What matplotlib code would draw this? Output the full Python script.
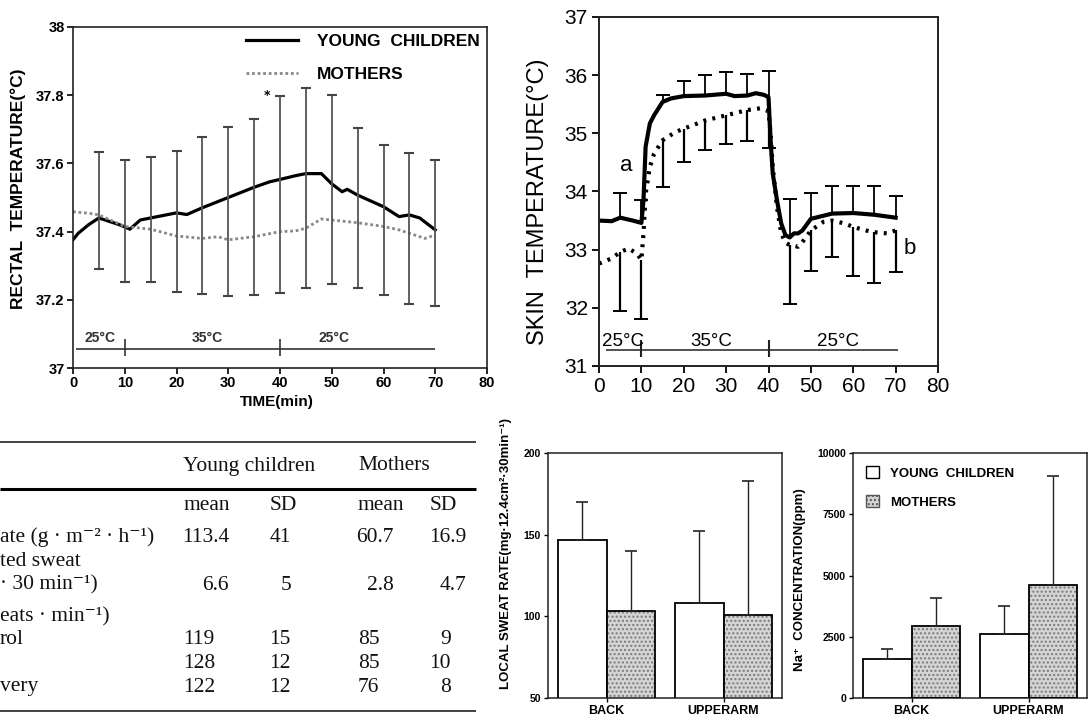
"""Rectal / skin temperature curves, subject table and local sweat bars (scanned figure re-draw)."""
import matplotlib
matplotlib.use("Agg")
import matplotlib.pyplot as plt
from matplotlib.patches import Rectangle
import numpy as np

W, H = 1088, 720
SANS = ["Liberation Sans", "DejaVu Sans"]
SERIF = ["Liberation Serif", "DejaVu Serif"]

# ---------- rectal temperature ----------
rt_child_t = [0, 1, 3, 5, 7, 9, 11, 13, 15, 20, 22, 25, 30, 35, 38, 40, 43, 45, 48,
              50, 52, 53, 55, 60, 63, 65, 67, 70]
rt_child = [37.376, 37.395, 37.42, 37.44, 37.43, 37.42, 37.407, 37.434, 37.44, 37.455,
            37.45, 37.47, 37.50, 37.53, 37.546, 37.553, 37.564, 37.57, 37.57, 37.54,
            37.517, 37.524, 37.507, 37.473, 37.444, 37.449, 37.44, 37.405]
rt_moth_t = [0, 3, 5, 10, 15, 20, 25, 28, 30, 35, 40, 43, 45, 48, 50, 55, 60, 63, 65, 68, 70]
rt_moth = [37.458, 37.454, 37.449, 37.415, 37.407, 37.387, 37.38, 37.385, 37.376, 37.385,
           37.40, 37.402, 37.41, 37.437, 37.434, 37.426, 37.415, 37.405, 37.395, 37.38, 37.39]
rt_bar_t = [5, 10, 15, 20, 25, 30, 35, 40, 45, 50, 55, 60, 65, 70]
rt_bar_hi = [37.632, 37.61, 37.62, 37.637, 37.676, 37.707, 37.73, 37.797, 37.822, 37.80,
             37.705, 37.653, 37.63, 37.609]
rt_bar_lo = [37.29, 37.251, 37.251, 37.222, 37.218, 37.212, 37.215, 37.221, 37.234, 37.246,
             37.234, 37.215, 37.188, 37.182]
rt_yticks = [37, 37.2, 37.4, 37.6, 37.8, 38]
rt_yticklabels = ["37", "37.2", "37.4", "37.6", "37.8", "38"]

# ---------- skin temperature ----------
sk_child_t = [0, 3, 5, 8, 10, 10.5, 11, 12, 13, 15, 17, 20, 25, 30, 32, 35, 37, 39, 40,
              40.5, 41, 42, 43, 44, 45, 46, 47, 48, 50, 55, 60, 65, 70]
sk_child = [33.50, 33.49, 33.55, 33.50, 33.46, 33.85, 34.77, 35.17, 35.31, 35.54, 35.60,
            35.64, 35.65, 35.68, 35.64, 35.65, 35.69, 35.66, 35.62, 34.88, 34.31, 33.85,
            33.45, 33.25, 33.21, 33.28, 33.28, 33.33, 33.53, 33.62, 33.63, 33.60, 33.55]
sk_moth_t = [0, 3, 5, 7, 9, 10, 10.5, 11, 12, 13, 15, 18, 20, 25, 30, 35, 38, 40, 40.5,
             41, 42, 43, 44, 45, 47, 48, 50, 53, 55, 58, 60, 63, 65, 68, 70]
sk_moth = [32.76, 32.85, 32.96, 33.02, 32.93, 32.82, 33.28, 33.96, 34.42, 34.65, 34.88,
           35.02, 35.08, 35.22, 35.31, 35.40, 35.43, 35.38, 34.99, 34.42, 33.73, 33.28,
           33.12, 33.08, 33.05, 33.13, 33.33, 33.48, 33.50, 33.45, 33.39, 33.33, 33.30,
           33.28, 33.33]
sk_bar_t = [5, 10, 15, 20, 25, 30, 35, 40, 45, 50, 55, 60, 65, 70]
sk_child_hi = [33.98, 33.85, 35.66, 35.90, 36.01, 36.05, 36.02, 36.08, 33.87, 33.98,
               34.10, 34.10, 34.09, 33.92]
sk_moth_lo = [31.95, 31.80, 34.08, 34.50, 34.71, 34.81, 34.87, 34.75, 32.07, 32.63,
              32.88, 32.54, 32.43, 32.62]

# ---------- table ----------
tbl_groups = ["Young children", "Mothers"]
tbl_sub = ["mean", "SD", "mean", "SD"]
tbl_labels = ["ate (g · m⁻² · h⁻¹)", "ted sweat", "· 30 min⁻¹)", "eats · min⁻¹)",
              "rol", "", "very"]
tbl_values = [
    ["113.4", "41", "60.7", "16.9"],
    ["6.6", "5", "2.8", "4.7"],
    ["119", "15", "85", "9"],
    ["128", "12", "85", "10"],
    ["122", "12", "76", "8"],
]

# ---------- bar charts ----------
sites = ["BACK", "UPPERARM"]
sr_child = [147, 108]
sr_moth = [103, 101]
sr_child_top = [170, 152]
sr_moth_top = [140, 183]
na_child = [1580, 2600]
na_moth = [2920, 4600]
na_child_top = [2000, 3750]
na_moth_top = [4100, 9050]


def px_axes(fig, left, top, right, bottom):
    return fig.add_axes([left / W, 1 - bottom / H, (right - left) / W, (bottom - top) / H])


def fig_text(fig, x, y, s, **kw):
    fig.text(x / W, 1 - y / H, s, **kw)


def style_spines(ax, lw=1.2):
    for sp in ax.spines.values():
        sp.set_linewidth(lw)
        sp.set_color("#222222")


def rectal_panel(fig):
    ax = px_axes(fig, 73, 27, 487, 368)
    ax.plot(rt_child_t, rt_child, color="black", lw=2.3, label="YOUNG  CHILDREN")
    ax.plot(rt_moth_t, rt_moth, color="#888888", lw=2.0, ls=(0, (1, 1)), label="MOTHERS")
    ax.vlines(rt_bar_t, rt_bar_lo, rt_bar_hi, color="#555555", lw=1.3)
    ax.plot(rt_bar_t, rt_bar_hi, "_", color="#444444", ms=7, mew=1.5)
    ax.plot(rt_bar_t, rt_bar_lo, "_", color="#444444", ms=7, mew=1.5)
    ax.text(37.4, 37.79, "*", fontsize=9, fontweight="bold", ha="center")
    # exposure schedule
    ax.hlines(37.055, 0.5, 70, color="#333333", lw=1.2)
    ax.vlines([10, 40], 37.035, 37.085, color="#333333", lw=1.2)
    for xc, lab in zip([5.2, 26, 50.4], ["25°C", "35°C", "25°C"]):
        ax.text(xc, 37.066, lab, ha="center", va="bottom", fontsize=10,
                fontweight="bold", family=SANS, color="#333333")
    ax.set_xlim(0, 80)
    ax.set_ylim(37, 38)
    ax.set_xticks(range(0, 81, 10))
    ax.set_yticks(rt_yticks)
    ax.set_yticklabels(rt_yticklabels)
    ax.tick_params(direction="out", length=4, width=1.2, labelsize=10.5, pad=2)
    for lab in ax.get_xticklabels() + ax.get_yticklabels():
        lab.set_fontweight("bold")
        lab.set_family(SANS)
    style_spines(ax)
    ax.legend(loc="upper right", frameon=False, handlelength=3.0, borderaxespad=0.0,
              labelspacing=1.05, handletextpad=1.1,
              prop={"family": SANS, "weight": "bold", "size": 12.5})
    fig_text(fig, 18, 189, "RECTAL  TEMPERATURE(°C)", rotation=90, ha="center",
             va="center", fontsize=12.5, fontweight="bold", family=SANS)
    fig_text(fig, 277, 402, "TIME(min)", ha="center", va="center", fontsize=11,
             fontweight="bold", family=SANS)


def skin_panel(fig):
    ax = px_axes(fig, 599, 17, 938, 366)
    ax.plot(sk_child_t, sk_child, color="black", lw=3.0)
    ax.plot(sk_moth_t, sk_moth, color="black", lw=3.0, ls=(0, (0.7, 1.5)))
    child_base = np.interp(sk_bar_t, sk_child_t, sk_child)
    moth_base = np.interp(sk_bar_t, sk_moth_t, sk_moth)
    ax.vlines(sk_bar_t, child_base, sk_child_hi, color="black", lw=1.3)
    ax.vlines(sk_bar_t, sk_moth_lo, moth_base, color="black", lw=1.6)
    ax.plot(sk_bar_t, sk_child_hi, "_", color="black", ms=10, mew=1.4)
    ax.plot(sk_bar_t, sk_moth_lo, "_", color="black", ms=10, mew=1.4)
    ax.text(6.5, 34.45, "a", fontsize=16, ha="center", va="center", family=SANS)
    ax.text(73.4, 33.02, "b", fontsize=16, ha="center", va="center", family=SANS)
    ax.hlines(31.27, 1.7, 70.5, color="#333333", lw=1.2)
    ax.vlines([10, 40], 31.15, 31.45, color="#222222", lw=1.5)
    for xc, lab in zip([5.7, 26.5, 56.5], ["25°C", "35°C", "25°C"]):
        ax.text(xc, 31.28, lab, ha="center", va="bottom", fontsize=13.5, family=SANS)
    ax.set_xlim(0, 80)
    ax.set_ylim(31, 37)
    ax.set_xticks(range(0, 81, 10))
    ax.set_yticks(range(31, 38))
    ax.tick_params(direction="out", length=5, width=1.3, labelsize=15, pad=3)
    for lab in ax.get_xticklabels() + ax.get_yticklabels():
        lab.set_family(SANS)
    style_spines(ax, 1.4)
    fig_text(fig, 538, 202, "SKIN  TEMPERATURE(°C)", rotation=90, ha="center",
             va="center", fontsize=17, family=SANS)


def table_panel(fig):
    ax = px_axes(fig, 0, 430, 480, 720)
    ax.set_xlim(0, 480)
    ax.set_ylim(720, 430)
    ax.axis("off")
    ax.hlines(442, 0, 476, color="#333333", lw=1.3)
    ax.hlines(489, 0, 476, color="black", lw=2.2)
    ax.hlines(711, 0, 476, color="#333333", lw=1.3)
    kw = dict(family=SERIF, fontsize=15.5, va="center", color="#111111")
    ax.text(183, 466, tbl_groups[0], ha="left", **kw)
    ax.text(358, 466, tbl_groups[1], ha="left", **kw)
    for xs, s in zip([183, 270, 358, 430], tbl_sub):
        ax.text(xs, 506, s, ha="left", **kw)
    for y, s in zip([537, 561, 585, 617, 640, 663, 687], tbl_labels):
        ax.text(0, y, s, ha="left", **kw)
    row_y = [537, 585, 640, 663, 687]
    for i, (y, vals) in enumerate(zip(row_y, tbl_values)):
        if i < 2:
            ax.text(229, y, vals[0], ha="right", **kw)
            ax.text(291, y, vals[1], ha="right", **kw)
            ax.text(394, y, vals[2], ha="right", **kw)
            ax.text(466, y, vals[3], ha="right", **kw)
        else:
            ax.text(183, y, vals[0], ha="left", **kw)
            ax.text(291, y, vals[1], ha="right", **kw)
            ax.text(358, y, vals[2], ha="left", **kw)
            ax.text(451, y, vals[3], ha="right", **kw)


def bar_panel(fig, box, child, moth, child_top, moth_top, ylim, yticks):
    ax = px_axes(fig, *box)
    x = np.arange(len(sites))
    w = 0.415
    child = np.array(child)
    moth = np.array(moth)
    ax.bar(x - w / 2, child, w, color="white", edgecolor="black", lw=1.3, zorder=2)
    ax.bar(x + w / 2, moth, w, color="#d4d4d4", edgecolor="#7a7a7a", hatch="....",
           lw=0, zorder=2)
    ax.bar(x + w / 2, moth, w, fill=False, edgecolor="black", lw=1.3, zorder=3)
    ax.errorbar(x - w / 2, child, yerr=[np.zeros(2), np.array(child_top) - child],
                fmt="none", ecolor="#222222", elinewidth=1.0, capsize=4, capthick=1.2,
                zorder=4)
    ax.errorbar(x + w / 2, moth, yerr=[np.zeros(2), np.array(moth_top) - moth],
                fmt="none", ecolor="#222222", elinewidth=1.0, capsize=4, capthick=1.2,
                zorder=4)
    ax.set_xlim(-0.5, 1.5)
    ax.set_ylim(*ylim)
    ax.set_yticks(yticks)
    ax.set_xticks(x)
    ax.set_xticklabels(sites)
    ax.tick_params(direction="out", length=3, width=1.0, labelsize=7.5, pad=2)
    for lab in ax.get_xticklabels() + ax.get_yticklabels():
        lab.set_fontweight("bold")
        lab.set_family(SANS)
    for lab in ax.get_xticklabels():
        lab.set_fontsize(9)
    style_spines(ax, 1.1)
    return ax


def main():
    fig = plt.figure(figsize=(W / 100, H / 100), dpi=100)
    fig.patch.set_facecolor("white")
    rectal_panel(fig)
    skin_panel(fig)
    table_panel(fig)

    bar_panel(fig, (548, 453, 782, 698), sr_child, sr_moth, sr_child_top, sr_moth_top,
              (50, 200), [50, 100, 150, 200])
    fig_text(fig, 506, 418, "LOCAL SWEAT RATE(mg·12.4cm²·30min⁻¹)", rotation=90,
             ha="center", va="top", fontsize=9.5, fontweight="bold", family=SANS)

    ax4 = bar_panel(fig, (853, 453, 1087, 698), na_child, na_moth, na_child_top,
                    na_moth_top, (0, 10000), [0, 2500, 5000, 7500, 10000])
    fig_text(fig, 800, 580, "Na⁺  CONCENTRATION(ppm)", rotation=90, ha="center",
             va="center", fontsize=9.5, fontweight="bold", family=SANS)
    handles = [Rectangle((0, 0), 1, 1, facecolor="white", edgecolor="black", lw=1.0),
               Rectangle((0, 0), 1, 1, facecolor="#d4d4d4", edgecolor="#555555",
                         hatch="....", lw=1.0)]
    ax4.legend(handles, ["YOUNG  CHILDREN", "MOTHERS"], loc="upper left", frameon=False,
               handlelength=1.0, handleheight=1.0, labelspacing=1.2, handletextpad=0.8,
               borderaxespad=0.6, prop={"family": SANS, "weight": "bold", "size": 9.5})

    fig.savefig("out.png", dpi=100)
    plt.close(fig)


if __name__ == "__main__":
    main()
